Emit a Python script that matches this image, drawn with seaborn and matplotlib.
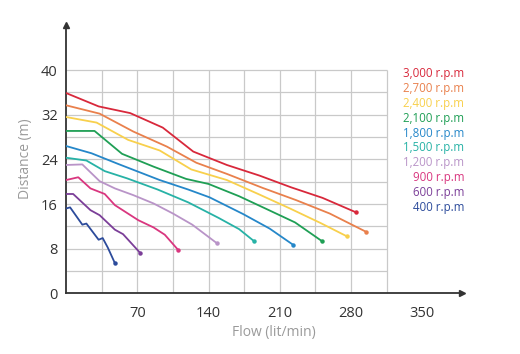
import pandas as pd
import matplotlib
matplotlib.use("Agg")
import matplotlib.pyplot as plt
import seaborn as sns

# pump curves (flow lit/min, distance m)
speeds = ["3,000 r.p.m", "2,700 r.p.m", "2,400 r.p.m", "2,100 r.p.m", "1,800 r.p.m",
          "1,500 r.p.m", "1,200 r.p.m", "900 r.p.m", "600 r.p.m", "400 r.p.m"]
colors = ["#d8283b", "#e9804c", "#f8d04c", "#1f9f55", "#2587c9",
          "#27b2a6", "#b994c8", "#d9367f", "#7b3e98", "#2c4b9b"]

flow_3000 = [0, 32, 63, 95, 125, 158, 190, 221, 252, 285]
dist_3000 = [35.9, 33.5, 32.3, 29.7, 25.4, 23.0, 21.1, 19.0, 17.1, 14.5]
flow_2700 = [0, 33, 66, 99, 128, 158, 193, 226, 259, 295]
dist_2700 = [33.7, 32.2, 29.0, 26.3, 23.4, 21.4, 18.9, 16.7, 14.3, 11.0]
flow_2400 = [0, 30, 61, 92, 123, 158, 190, 220, 250, 276]
dist_2400 = [31.6, 30.6, 27.5, 25.6, 22.2, 20.3, 17.7, 15.2, 12.6, 10.2]
flow_2100 = [0, 28, 55, 86, 118, 140, 170, 197, 225, 251]
dist_2100 = [29.1, 29.1, 25.0, 22.7, 20.5, 19.6, 17.4, 15.1, 12.7, 9.4]
flow_1800 = [0, 25, 51, 92, 120, 141, 174, 200, 223]
dist_1800 = [26.4, 25.1, 23.2, 20.3, 18.6, 17.2, 14.2, 11.6, 8.7]
flow_1500 = [0, 20, 38, 60, 90, 120, 150, 170, 185]
dist_1500 = [24.3, 23.8, 21.9, 20.6, 18.6, 16.3, 13.5, 11.5, 9.3]
flow_1200 = [0, 16, 33, 48, 66, 86, 105, 124, 148]
dist_1200 = [23.0, 23.1, 20.1, 18.8, 17.6, 16.1, 14.3, 12.3, 9.0]
flow_900 = [0, 12, 24, 38, 48, 71, 86, 97, 110]
dist_900 = [20.3, 20.8, 18.8, 17.8, 15.8, 13.1, 11.8, 10.5, 7.8]
flow_600 = [0, 7, 24, 33, 48, 56, 73]
dist_600 = [17.8, 17.8, 14.9, 14.0, 11.4, 10.6, 7.2]
flow_400 = [0, 4, 16, 20, 32, 36, 41, 48]
dist_400 = [15.2, 15.4, 12.3, 12.5, 9.6, 9.9, 8.2, 5.4]

flows = [flow_3000, flow_2700, flow_2400, flow_2100, flow_1800,
         flow_1500, flow_1200, flow_900, flow_600, flow_400]
dists = [dist_3000, dist_2700, dist_2400, dist_2100, dist_1800,
         dist_1500, dist_1200, dist_900, dist_600, dist_400]

x_ticks = [70, 140, 210, 280, 350]
y_ticks = [0, 8, 16, 24, 32, 40]

frames = []
for name, fx, dy in zip(speeds, flows, dists):
    frames.append(pd.DataFrame({"flow": fx, "distance": dy, "speed": name}))
df = pd.concat(frames, ignore_index=True)

sns.set_style("white")
plt.rcParams["font.family"] = ["Open Sans", "DejaVu Sans"]

fig = plt.figure(figsize=(5.2, 3.54), dpi=100)
ax = fig.add_axes([0.127, 0.1715, 0.7615, 0.758])

# grid box: vertical every 35, horizontal every 4, up to 315 x 40
grid_c = "#c9c9c9"
ax.vlines(range(35, 316, 35), 0, 40, color=grid_c, lw=0.9, zorder=1)
ax.hlines(range(4, 41, 4), 0, 315, color=grid_c, lw=0.9, zorder=1)

sns.lineplot(data=df, x="flow", y="distance", hue="speed", hue_order=speeds,
             palette=colors, estimator=None, sort=False, lw=1.3,
             legend=False, ax=ax, zorder=3)
for fx, dy, c in zip(flows, dists, colors):
    ax.plot(fx[-1], dy[-1], "o", color=c, ms=2.2, zorder=4)

ax.set_xlim(0, 389)
ax.set_ylim(0, 48.1)
ax.set_xticks(x_ticks)
ax.set_yticks(y_ticks)
ax.tick_params(length=0, labelsize=10.5, labelcolor="#333333")
ax.tick_params(axis="x", pad=9)
ax.tick_params(axis="y", pad=6)
for s in ["top", "right"]:
    ax.spines[s].set_visible(False)
for s in ["left", "bottom"]:
    ax.spines[s].set_color("#333333")
    ax.spines[s].set_linewidth(1.3)
ax.plot(1, 0, ">", color="#333333", ms=5, transform=ax.transAxes, clip_on=False)
ax.plot(0, 1, "^", color="#333333", ms=5, transform=ax.transAxes, clip_on=False)

ax.set_xlabel("Flow (lit/min)", color="#9a9a9a", fontsize=10)
ax.xaxis.set_label_coords(0.525, -0.12)
ax.set_ylabel("Distance (m)", color="#9a9a9a", fontsize=10, labelpad=6)

for i, (name, c) in enumerate(zip(speeds, colors)):
    fig.text(0.893, 0.791 - i * 0.0418, name, color=c, fontsize=8.3,
             ha="right", va="center")

fig.savefig("out.png", dpi=100)
